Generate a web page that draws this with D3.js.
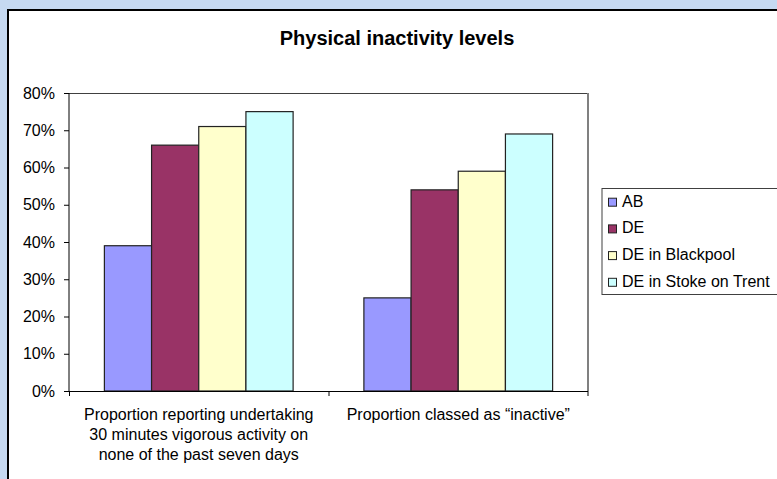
<!DOCTYPE html>
<html>
<head>
<meta charset="utf-8">
<script src="https://cdn.jsdelivr.net/npm/d3@7"></script>
<style>
  html, body { margin: 0; padding: 0; background: #C6D9F1; }
  svg { display: block; font-family: "Liberation Sans", Arial, sans-serif; }
</style>
</head>
<body>
<svg id="chart" width="777" height="479"></svg>
<script>
// Chart data
const title = "Physical inactivity levels";
const categories = [
  ["Proportion reporting undertaking", "30 minutes vigorous activity on", "none of the past seven days"],
  ["Proportion classed as \u201Cinactive\u201D"]
];
const seriesNames = ["AB", "DE", "DE in Blackpool", "DE in Stoke on Trent"];
const seriesColors = ["#9999FF", "#993366", "#FFFFCC", "#CCFFFF"];
const valuesAB = [0.39, 0.25];
const valuesDE = [0.66, 0.54];
const valuesBlackpool = [0.71, 0.59];
const valuesStoke = [0.75, 0.69];
const yTicks = [0, 0.1, 0.2, 0.3, 0.4, 0.5, 0.6, 0.7, 0.8];

const seriesValues = [valuesAB, valuesDE, valuesBlackpool, valuesStoke];

const svg = d3.select("#chart");

// Chart area (white panel with dark frame)
svg.append("rect")
  .attr("x", 8).attr("y", 10).attr("width", 800).attr("height", 500)
  .attr("fill", "#ffffff").attr("stroke", "#000").attr("stroke-width", 2);

const plot = { left: 69, right: 588, top: 93, bottom: 391 };

const x0 = d3.scaleBand()
  .domain(d3.range(categories.length))
  .range([plot.left, plot.right])
  .paddingInner(0).paddingOuter(0);

// 150% gap width: each group holds 4 bars plus 1.5 bar widths of space
const barW = x0.bandwidth() / 5.5;
const x1 = d3.scaleBand()
  .domain(d3.range(seriesNames.length))
  .range([0.75 * barW, 0.75 * barW + 4 * barW]);

const y = d3.scaleLinear().domain([0, 0.8]).range([plot.bottom, plot.top]);

// Plot area border
svg.append("line")
  .attr("x1", plot.left).attr("x2", plot.right)
  .attr("y1", plot.top + 0.5).attr("y2", plot.top + 0.5)
  .attr("stroke", "#404040").attr("stroke-width", 1);
svg.append("line")
  .attr("x1", plot.right).attr("x2", plot.right)
  .attr("y1", plot.top).attr("y2", plot.bottom + 5)
  .attr("stroke", "#808080").attr("stroke-width", 2);

// Bars
const groups = svg.append("g").selectAll("g")
  .data(categories.map((c, i) => i))
  .join("g")
  .attr("transform", i => `translate(${x0(i)},0)`);

groups.selectAll("rect")
  .data(i => seriesValues.map((vals, s) => ({ s, v: vals[i] })))
  .join("rect")
  .attr("x", d => x1(d.s))
  .attr("width", x1.bandwidth())
  .attr("y", d => y(d.v))
  .attr("height", d => y(0) - y(d.v))
  .attr("fill", d => seriesColors[d.s])
  .attr("stroke", "#222")
  .attr("stroke-width", 1.2);

// Y axis
const yAxis = d3.axisLeft(y)
  .tickValues(yTicks)
  .tickFormat(d3.format(".0%"))
  .tickSize(5)
  .tickPadding(9);
const yg = svg.append("g")
  .attr("transform", `translate(${plot.left},0)`)
  .call(yAxis);
yg.select(".domain").attr("stroke", "#000").attr("d", `M0,${plot.top}V${plot.bottom}`);
yg.selectAll(".tick line").attr("stroke", "#000");
yg.selectAll(".tick text")
  .attr("font-size", 16)
  .attr("fill", "#000")
  .attr("font-family", "Liberation Sans, Arial, sans-serif");

// X axis with category-boundary ticks
svg.append("line")
  .attr("x1", plot.left - 5).attr("x2", plot.right)
  .attr("y1", plot.bottom + 0.5).attr("y2", plot.bottom + 0.5)
  .attr("stroke", "#000");
const boundaries = d3.range(categories.length).map(i => x0(i));
svg.selectAll(".xtick")
  .data(boundaries)
  .join("line")
  .attr("class", "xtick")
  .attr("x1", d => d + 0.5).attr("x2", d => d + 0.5)
  .attr("y1", plot.bottom).attr("y2", plot.bottom + 5)
  .attr("stroke", "#000");

// Category labels
const catLabels = svg.append("g").selectAll("text")
  .data(categories.map((lines, i) => ({ lines, i })))
  .join("text")
  .attr("text-anchor", "middle")
  .attr("font-size", 16)
  .attr("fill", "#000")
  .attr("x", d => x0(d.i) + x0.bandwidth() / 2)
  .attr("y", 419.5);
catLabels.selectAll("tspan")
  .data(d => d.lines.map(l => ({ l, x: x0(d.i) + x0.bandwidth() / 2 })))
  .join("tspan")
  .attr("x", d => d.x)
  .attr("dy", (d, k) => k === 0 ? 0 : 20.3)
  .text(d => d.l);

// Title
svg.append("text")
  .attr("x", 397).attr("y", 45)
  .attr("text-anchor", "middle")
  .attr("font-size", 20)
  .attr("font-weight", "bold")
  .attr("fill", "#000")
  .text(title);

// Legend
const legend = svg.append("g");
legend.append("rect")
  .attr("x", 602).attr("y", 188.5).attr("width", 200).attr("height", 106)
  .attr("fill", "#fff").attr("stroke", "#404040").attr("stroke-width", 1);
const items = legend.selectAll("g.item")
  .data(seriesNames.map((n, i) => ({ n, i })))
  .join("g")
  .attr("class", "item")
  .attr("transform", d => `translate(608,${206.7 + d.i * 26.7})`);
items.append("rect")
  .attr("x", 0.5).attr("y", -8.5).attr("width", 8).attr("height", 8)
  .attr("fill", d => seriesColors[d.i])
  .attr("stroke", "#222").attr("stroke-width", 1);
items.append("text")
  .attr("x", 14).attr("y", 0)
  .attr("font-size", 16)
  .attr("fill", "#000")
  .text(d => d.n);
</script>
</body>
</html>
